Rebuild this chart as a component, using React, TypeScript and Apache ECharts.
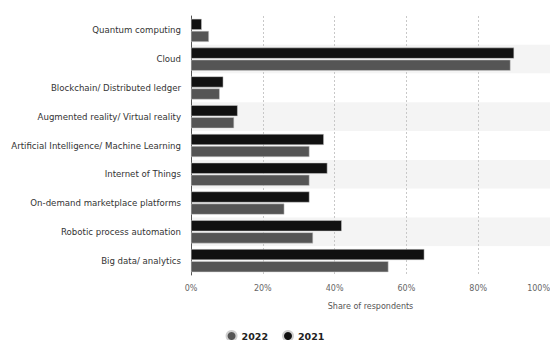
import React, { useEffect, useRef } from "react";
import * as echarts from "echarts";

const categories = [
  "Quantum computing",
  "Cloud",
  "Blockchain/ Distributed ledger",
  "Augmented reality/ Virtual reality",
  "Artificial Intelligence/ Machine Learning",
  "Internet of Things",
  "On-demand marketplace platforms",
  "Robotic process automation",
  "Big data/ analytics",
];
const values2021 = [3, 90, 9, 13, 37, 38, 33, 42, 65];
const values2022 = [5, 89, 8, 12, 33, 33, 26, 34, 55];
const xTicks = [0, 20, 40, 60, 80, 100];

export default function App() {
  const ref = useRef<HTMLDivElement>(null);
  useEffect(() => {
    if (!ref.current) return;
    const chart = echarts.init(ref.current, null, { renderer: "svg" });
    const font = "DejaVu Sans";
    chart.setOption({
      animation: false,
      textStyle: { fontFamily: font },
      grid: {
        left: 191,
        right: 0,
        top: 16,
        bottom: 65,
        containLabel: false,
        outerBoundsMode: "none",
      },
      legend: {
        data: ["2022", "2021"],
        top: 330,
        left: "center",
        icon: "circle",
        itemWidth: 10,
        itemHeight: 10,
        itemGap: 14,
        padding: 0,
        textStyle: {
          fontFamily: font,
          fontSize: 9.5,
          lineHeight: 10,
          fontWeight: "bold",
          color: "#222",
        },
      },
      xAxis: {
        type: "value",
        min: xTicks[0],
        max: xTicks[xTicks.length - 1],
        interval: 20,
        name: "Share of respondents",
        nameLocation: "middle",
        nameGap: 27,
        nameTextStyle: { fontFamily: font, fontSize: 8, color: "#555" },
        axisLine: { show: false },
        axisTick: { show: false },
        axisLabel: {
          formatter: "{value}%",
          fontFamily: font,
          fontSize: 8,
          color: "#666",
          margin: 9,
          alignMaxLabel: "right",
        },
        splitLine: { show: true, lineStyle: { type: [2, 2], color: "#c8c8c8", width: 1 } },
      },
      yAxis: {
        type: "category",
        data: categories,
        inverse: true,
        axisLine: { show: true, lineStyle: { color: "#555", width: 1 } },
        axisTick: { show: false },
        axisLabel: { fontFamily: font, fontSize: 8.6, color: "#333", margin: 10 },
        splitArea: { show: true, areaStyle: { color: ["#ffffff", "#f4f4f4"] } },
      },
      series: [
        {
          name: "2021",
          type: "bar",
          data: values2021,
          itemStyle: { color: "#111111", borderColor: "#d0d0d0", borderWidth: 0.5 },
          barWidth: 11,
          barGap: "10%",
          barCategoryGap: "20%",
        },
        {
          name: "2022",
          type: "bar",
          data: values2022,
          itemStyle: { color: "#555555", borderColor: "#d0d0d0", borderWidth: 0.5 },
          barWidth: 11,
          barGap: "10%",
          barCategoryGap: "20%",
        },
      ],
    });
    return () => chart.dispose();
  }, []);
  return (
    <div
      ref={ref}
      style={{ position: "fixed", left: 0, top: 0, width: 550, height: 340, background: "#fff" }}
    />
  );
}
